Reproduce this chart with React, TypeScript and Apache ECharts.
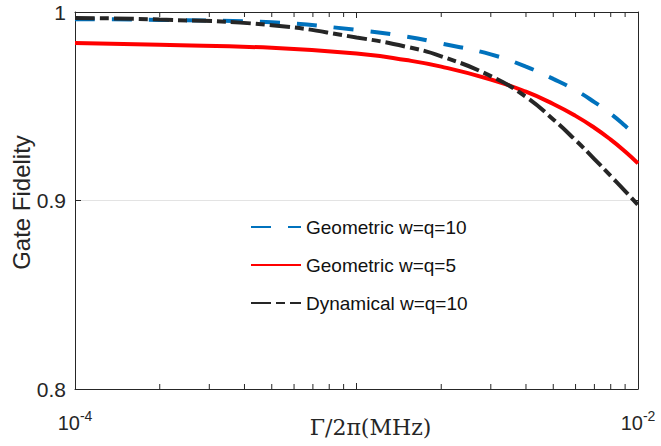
import React, { useEffect, useRef } from "react";
import * as echarts from "echarts";

// Γ/2π (MHz) sample positions
const gammaValues = [1e-4, 2e-4, 5e-4, 1e-3, 1.5e-3, 2e-3, 3e-3, 4e-3, 5e-3, 6e-3, 7e-3, 8e-3, 9e-3, 1e-2];
const geometric10 = [0.9962, 0.9958, 0.9945, 0.9905, 0.987, 0.9833, 0.9775, 0.971, 0.9645, 0.9585, 0.9522, 0.946, 0.9396, 0.9333];
const geometric5 = [0.9836, 0.9826, 0.981, 0.978, 0.9745, 0.971, 0.9642, 0.9577, 0.9512, 0.9449, 0.9386, 0.9323, 0.926, 0.9197];
const dynamical10 = [0.9968, 0.996, 0.993, 0.9865, 0.9816, 0.9765, 0.966, 0.955, 0.943, 0.932, 0.922, 0.913, 0.905, 0.8976];
const minorTickValues = [2e-4, 3e-4, 4e-4, 5e-4, 6e-4, 7e-4, 8e-4, 9e-4, 2e-3, 3e-3, 4e-3, 5e-3, 6e-3, 7e-3, 8e-3, 9e-3];
const seriesNames = ["Geometric w=q=10", "Geometric w=q=5", "Dynamical w=q=10"];

const AXIS = "#262626";
const SANS = "Liberation Sans, Arial, sans-serif";

export default function App() {
  const ref = useRef<HTMLDivElement>(null);
  useEffect(() => {
    if (!ref.current) return;
    const chart = echarts.init(ref.current, undefined, { renderer: "svg" });
    const pair = (ys: number[]) => gammaValues.map((x, i) => [x, ys[i]]);
    const tickStyle = { show: true, inside: true, length: 6, lineStyle: { color: AXIS, width: 1 } };
    chart.setOption({
      animation: false,
      backgroundColor: "#ffffff",
      grid: { left: 75, right: 23, top: 12, bottom: 57, containLabel: false, outerBoundsMode: "none" },
      xAxis: [
        {
          type: "log",
          logBase: 10,
          min: 1e-4,
          max: 1e-2,
          position: "bottom",
          axisLine: { show: true, lineStyle: { color: AXIS, width: 1 } },
          axisTick: tickStyle,
          splitLine: { show: false },
          minorTick: { show: false },
          axisLabel: {
            margin: 20,
            color: AXIS,
            fontFamily: SANS,
            formatter: (v: number) => {
              const e = Math.round(Math.log10(v));
              if (e === -3) return "";
              return `{b|10}{s|${e}}`;
            },
            rich: {
              b: { fontSize: 20, fontFamily: SANS, color: AXIS, lineHeight: 24, verticalAlign: "bottom" },
              s: { fontSize: 14, fontFamily: SANS, color: AXIS, lineHeight: 24, verticalAlign: "top", padding: [0, 0, 10, 0] },
            },
          },
          name: "Γ/2π(MHz)",
          nameLocation: "middle",
          nameGap: 27,
          nameMoveOverlap: false,
          nameTextStyle: { fontFamily: "DejaVu Serif, serif", fontSize: 22, color: AXIS, padding: [0, 0, 0, 28] },
        },
        {
          type: "log",
          logBase: 10,
          min: 1e-4,
          max: 1e-2,
          position: "top",
          axisLine: { show: true, lineStyle: { color: AXIS, width: 1 } },
          axisTick: tickStyle,
          axisLabel: { show: false },
          splitLine: { show: false },
        },
      ],
      yAxis: [
        {
          type: "value",
          min: 0.8,
          max: 1,
          interval: 0.1,
          position: "left",
          axisLine: { show: true, lineStyle: { color: AXIS, width: 1 } },
          axisTick: tickStyle,
          splitLine: { show: true, lineStyle: { color: "#e3e3e3", width: 1 } },
          axisLabel: {
            margin: 9,
            fontSize: 21,
            color: AXIS,
            fontFamily: SANS,
            formatter: (v: number) => String(Math.round(v * 10) / 10),
          },
          name: "Gate Fidelity",
          nameLocation: "middle",
          nameGap: 42,
          nameMoveOverlap: false,
          nameTextStyle: { fontFamily: SANS, fontSize: 24, color: AXIS, padding: [0, 4, 0, 0] },
        },
        {
          type: "value",
          min: 0.8,
          max: 1,
          interval: 0.1,
          position: "right",
          axisLine: { show: true, lineStyle: { color: AXIS, width: 1 } },
          axisTick: tickStyle,
          axisLabel: { show: false },
          splitLine: { show: false },
        },
      ],
      legend: {
        orient: "vertical",
        left: 245,
        top: 212,
        itemWidth: 50,
        itemHeight: 20,
        itemGap: 18,
        data: seriesNames,
        itemStyle: { opacity: 0 },
        textStyle: { fontSize: 19, color: "#111", fontFamily: SANS, lineHeight: 20 },
      },
      series: [
        {
          name: seriesNames[0],
          type: "line",
          data: pair(geometric10),
          smooth: 0.5,
          symbol: "none",
          lineStyle: { color: "#0072BD", width: 4, type: [20, 17], cap: "butt" },
          itemStyle: { color: "#0072BD" },
          z: 2,
        },
        {
          name: seriesNames[1],
          type: "line",
          data: pair(geometric5),
          smooth: 0.5,
          symbol: "none",
          lineStyle: { color: "#FF0000", width: 4, type: "solid" },
          itemStyle: { color: "#FF0000" },
          z: 3,
        },
        {
          name: seriesNames[2],
          type: "line",
          data: pair(dynamical10),
          smooth: 0.5,
          symbol: "none",
          lineStyle: { color: "#262626", width: 4, type: [20, 5, 9, 5], cap: "butt" },
          itemStyle: { color: "#262626" },
          z: 4,
        },
        {
          type: "custom",
          silent: true,
          xAxisIndex: 0,
          yAxisIndex: 0,
          data: minorTickValues.map((v) => [v, 0.9]),
          z: 5,
          renderItem: (params: any, api: any) => {
            const cs = params.coordSys;
            const x = api.coord([api.value(0), 0.9])[0];
            const bottom = cs.y + cs.height;
            const top = cs.y;
            const style = { stroke: AXIS, lineWidth: 1 };
            return {
              type: "group",
              children: [
                { type: "line", shape: { x1: x, y1: bottom, x2: x, y2: bottom - 5 }, style },
                { type: "line", shape: { x1: x, y1: top, x2: x, y2: top + 5 }, style },
              ],
            };
          },
        },
      ],
    });
    return () => chart.dispose();
  }, []);
  return <div ref={ref} style={{ position: "absolute", left: 0, top: 0, width: 661, height: 446 }} />;
}
